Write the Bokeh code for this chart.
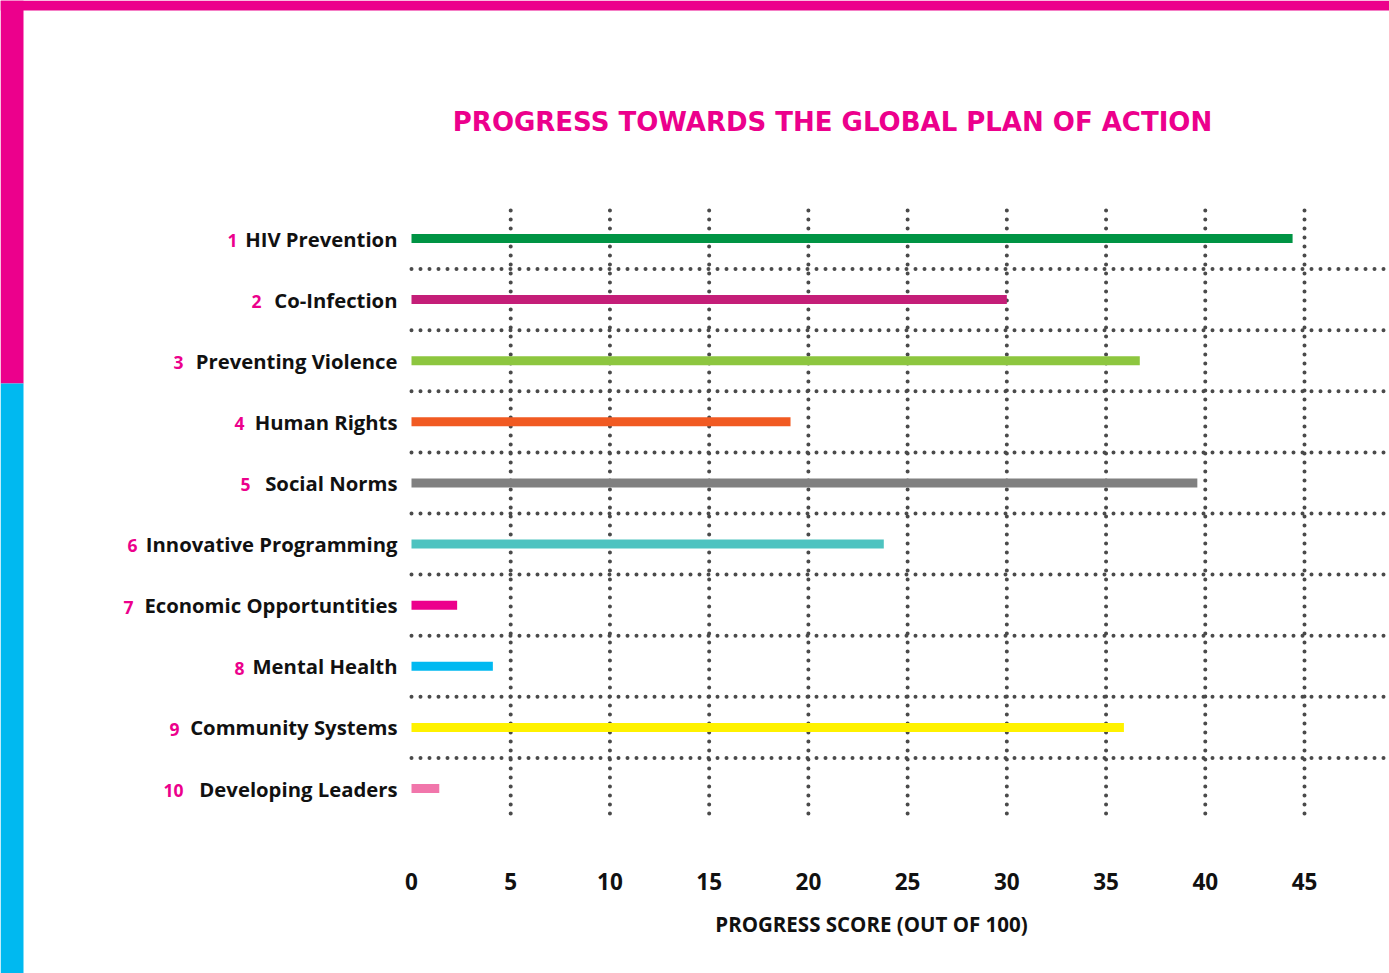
from bokeh.plotting import figure
from bokeh.models import Range1d
from bokeh.core.properties import value
from bokeh.embed import file_html
from bokeh.resources import INLINE

# ---- data ----
numbers = ["1", "2", "3", "4", "5", "6", "7", "8", "9", "10"]
names = ["HIV Prevention", "Co-Infection", "Preventing Violence", "Human Rights",
         "Social Norms", "Innovative Programming", "Economic Opportuntities",
         "Mental Health", "Community Systems", "Developing Leaders"]
scores = [44.4, 30.0, 36.7, 19.1, 39.6, 23.8, 2.3, 4.1, 35.9, 1.4]
colors = ["#009444", "#c41e78", "#8dc63f", "#f15a22", "#808080",
          "#4ec3c0", "#ec008c", "#00b9f1", "#fff200", "#f176ab"]
ticks = [0, 5, 10, 15, 20, 25, 30, 35, 40, 45]
tick_labels = ["0", "5", "10", "15", "20", "25", "30", "35", "40", "45"]
title_text = "PROGRESS TOWARDS THE GLOBAL PLAN OF ACTION"
xlabel_text = "PROGRESS SCORE (OUT OF 100)"

PINK = "#ec008c"
CYAN = "#00b9f0"
DOT = "#4a4a4a"
FONT = "Open Sans"

W, H = 1389, 973
# layout: pixel geometry of the plotting frame
X0_PX, X45_PX = 411, 1304
SX = (X45_PX - X0_PX) / 45.0
ROW1_PX, ROW10_PX = 238, 788
SY = (ROW10_PX - ROW1_PX) / 9.0

def px2x(px):
    return (px - X0_PX) / SX

def px2y(py):
    return 1 + (py - ROW1_PX) / SY

rows = list(range(1, len(names) + 1))

p = figure(width=W, height=H, x_range=Range1d(px2x(0), px2x(W)),
           y_range=Range1d(px2y(H), px2y(0)), x_axis_type=None, y_axis_type=None,
           min_border=0, toolbar_location=None, output_backend="svg")
p.outline_line_color = None
p.grid.visible = False
p.background_fill_color = "white"
p.border_fill_color = "white"

# decorative borders
p.quad(left=[px2x(0)], right=[px2x(W)], top=[px2y(0)], bottom=[px2y(10)],
       fill_color=PINK, line_color=None)
p.quad(left=[px2x(0)], right=[px2x(23)], top=[px2y(0)], bottom=[px2y(383)],
       fill_color=PINK, line_color=None)
p.quad(left=[px2x(0)], right=[px2x(23)], top=[px2y(383)], bottom=[px2y(H)],
       fill_color=CYAN, line_color=None)

# dotted grid
vt = [t for t in ticks if t > 0]
p.segment(x0=vt, x1=vt, y0=[px2y(210)] * len(vt), y1=[px2y(821)] * len(vt),
          line_color=DOT, line_width=4, line_dash="0 9", line_cap="round")
hy = [r + 0.5 for r in rows[:-1]]
p.segment(x0=[0] * len(hy), x1=[px2x(W + 5)] * len(hy), y0=hy, y1=hy,
          line_color=DOT, line_width=4, line_dash="0 9", line_cap="round")

# bars
p.hbar(y=rows, left=0, right=scores, height=9 / SY, fill_color=colors, line_color=None)

# row labels
p.text(x=[px2x(397)] * len(names), y=rows, text=names, text_align="right",
       text_baseline="middle", text_font=value(FONT), text_font_style="bold",
       text_font_size="20.3px", text_color="#111111")
name_left_px = [246, 270, 192, 253, 259, 146, 142, 253, 188, 192]
p.text(x=[px2x(v - 9) for v in name_left_px], y=[r + 0.03 for r in rows], text=numbers,
       text_align="right", text_baseline="middle", text_font=value(FONT),
       text_font_style="bold", text_font_size="17.5px", text_color=PINK)

# tick labels
p.text(x=ticks, y=[px2y(881)] * len(ticks), text=tick_labels, text_align="center",
       text_baseline="middle", text_font=value(FONT), text_font_style="bold",
       text_font_size="22.5px", text_color="#111111")
p.text(x=[px2x(871)], y=[px2y(923)], text=[xlabel_text], text_align="center",
       text_baseline="middle", text_font=value(FONT), text_font_style="bold",
       text_font_size="20.5px", text_color="#111111")

# title
p.text(x=[px2x(832)], y=[px2y(121)], text=[title_text], text_align="center",
       text_baseline="middle", text_font=value("DejaVu Sans"), text_font_style="bold",
       text_font_size="26px", text_color=PINK)

open("out.html", "w").write(file_html(p, INLINE))
